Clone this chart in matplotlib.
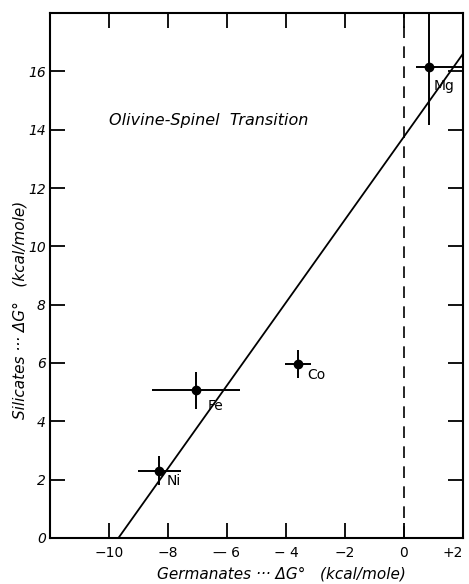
import matplotlib
matplotlib.use("Agg")
import matplotlib.pyplot as plt

# data (kcal/mole)
METALS = ["Mg", "Fe", "Co", "Ni"]
GERMANATE_DG = [0.85, -7.05, -3.58, -8.29]
SILICATE_DG = [16.15, 5.06, 5.97, 2.31]
GERMANATE_ERR_LOW = [0.45, 1.5, 0.44, 0.72]
GERMANATE_ERR_HIGH = [1.3, 1.5, 0.44, 0.72]
SILICATE_ERR = [2.0, 0.64, 0.48, 0.5]

FIT_X = [-9.68, 2.0]
FIT_Y = [0.0, 16.6]

X_TICKS = [-10, -8, -6, -4, -2, 0, 2]
X_TICK_LABELS = ["\u221210", "\u22128", "\u2014 6", "\u2212 4", "\u22122", "0", "+2"]
Y_TICKS = [0, 2, 4, 6, 8, 10, 12, 14, 16]

LABEL_OFFSETS = {"Mg": (0.17, -0.65), "Fe": (0.38, -0.52), "Co": (0.3, -0.37), "Ni": (0.26, -0.35)}

fig = plt.figure(figsize=(4.69, 5.84), dpi=100)
ax = fig.add_axes([0.1066, 0.0788, 0.8804, 0.8989])

ax.plot(FIT_X, FIT_Y, color="black", lw=1.3)
ax.axvline(0, color="black", lw=1.2, ls=(0, (7, 5)))
ax.errorbar(GERMANATE_DG, SILICATE_DG,
            xerr=[GERMANATE_ERR_LOW, GERMANATE_ERR_HIGH], yerr=SILICATE_ERR,
            fmt="o", color="black", ms=6, elinewidth=1.4, capsize=0)

for name, gx, sy in zip(METALS, GERMANATE_DG, SILICATE_DG):
    dx, dy = LABEL_OFFSETS[name]
    ax.text(gx + dx, sy + dy, name, fontsize=10, ha="left", va="center")

ax.text(-10.0, 14.3, "Olivine-Spinel  Transition", fontsize=11.5, style="italic",
        ha="left", va="center")

ax.set_xlim(-12, 2)
ax.set_ylim(0, 18)
ax.set_xticks(X_TICKS)
ax.set_xticklabels(X_TICK_LABELS)
ax.set_yticks(Y_TICKS)
ax.tick_params(direction="in", length=11, width=1.3, labelsize=10,
               top=True, right=True, pad=6)
ax.tick_params(axis="y", pad=3)
ax.get_xticklabels()[-1].set_horizontalalignment("right")
for lab in ax.get_yticklabels():
    lab.set_style("italic")
for s in ax.spines.values():
    s.set_linewidth(1.5)

ax.set_xlabel("Germanates \u00b7\u00b7\u00b7 \u0394G\u00b0   (kcal/mole)", fontsize=11, style="italic")
ax.xaxis.set_label_coords(0.56, -0.055)
ax.set_ylabel("Silicates \u00b7\u00b7\u00b7 \u0394G\u00b0   (kcal/mole)", fontsize=11, style="italic")
ax.yaxis.set_label_coords(-0.055, 0.435)

fig.savefig("out.png", dpi=100)
